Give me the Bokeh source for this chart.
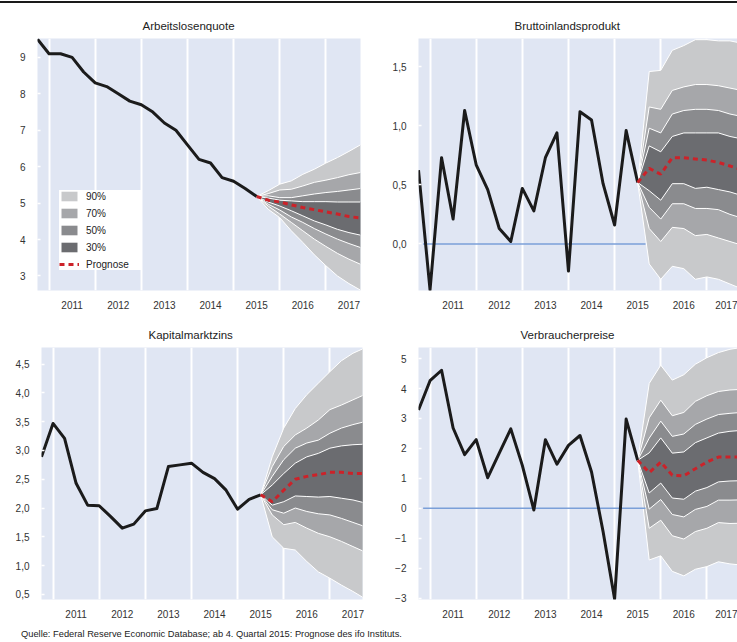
from bokeh.plotting import figure
from bokeh.models import (FixedTicker, CustomJSTickFormatter, Legend, LegendItem,
                          Div, Range1d)
from bokeh.layouts import column, row
from bokeh.embed import file_html
from bokeh.resources import INLINE

# ---------------- data ----------------
def quarter_labels(y0, q0, n):
    out = []
    y, q = y0, q0
    for _ in range(n):
        out.append(f"{y}Q{q}")
        q += 1
        if q > 4:
            q = 1
            y += 1
    return out

hist_quarters = quarter_labels(2010, 4, 20)      # 2010Q4 .. 2015Q3
fc_quarters = quarter_labels(2015, 3, 10)        # 2015Q3 .. 2017Q4
year_labels = ["2011", "2012", "2013", "2014", "2015", "2016", "2017"]

# Arbeitslosenquote
alq_hist = [9.5, 9.1, 9.1, 9.0, 8.6, 8.3, 8.2, 8.0, 7.8, 7.7, 7.5, 7.2, 7.0, 6.6,
            6.2, 6.1, 5.7, 5.6, 5.4, 5.18]
alq_med = [5.18, 5.08, 5.03, 4.95, 4.88, 4.82, 4.76, 4.70, 4.63, 4.59]
alq_u90 = [5.18, 5.34, 5.52, 5.61, 5.79, 5.93, 6.10, 6.25, 6.42, 6.60]
alq_u70 = [5.18, 5.26, 5.36, 5.38, 5.47, 5.57, 5.63, 5.70, 5.78, 5.84]
alq_u50 = [5.18, 5.20, 5.15, 5.15, 5.20, 5.25, 5.29, 5.32, 5.36, 5.40]
alq_u30 = [5.18, 5.14, 5.08, 5.06, 5.04, 5.04, 5.04, 5.03, 5.03, 5.03]
alq_l30 = [5.18, 5.03, 4.92, 4.79, 4.65, 4.51, 4.40, 4.28, 4.19, 4.12]
alq_l50 = [5.18, 4.97, 4.81, 4.62, 4.47, 4.30, 4.15, 4.01, 3.89, 3.78]
alq_l70 = [5.18, 4.92, 4.70, 4.47, 4.24, 4.01, 3.81, 3.62, 3.46, 3.32]
alq_l90 = [5.18, 4.83, 4.60, 4.24, 3.92, 3.58, 3.28, 3.00, 2.79, 2.61]

# Bruttoinlandsprodukt
bip_hist = [0.625, -0.39, 0.73, 0.21, 1.13, 0.67, 0.46, 0.13, 0.02, 0.47, 0.28, 0.73,
            0.94, -0.23, 1.12, 1.05, 0.51, 0.16, 0.96, 0.52]
bip_med = [0.52, 0.64, 0.59, 0.73, 0.73, 0.72, 0.71, 0.69, 0.66, 0.63]
bip_u90 = [0.52, 1.46, 1.47, 1.64, 1.68, 1.73, 1.73, 1.72, 1.72, 1.70]
bip_u70 = [0.52, 1.16, 1.14, 1.30, 1.33, 1.35, 1.35, 1.34, 1.32, 1.30]
bip_u50 = [0.52, 0.98, 0.94, 1.10, 1.13, 1.14, 1.14, 1.13, 1.10, 1.08]
bip_u30 = [0.52, 0.83, 0.78, 0.91, 0.94, 0.94, 0.94, 0.94, 0.91, 0.89]
bip_l30 = [0.52, 0.45, 0.37, 0.51, 0.51, 0.47, 0.48, 0.46, 0.44, 0.41]
bip_l50 = [0.52, 0.31, 0.21, 0.34, 0.34, 0.30, 0.30, 0.29, 0.25, 0.22]
bip_l70 = [0.52, 0.13, 0.02, 0.14, 0.13, 0.07, 0.08, 0.05, 0.02, -0.01]
bip_l90 = [0.52, -0.17, -0.30, -0.19, -0.21, -0.30, -0.28, -0.30, -0.34, -0.38]

# Kapitalmarktzins
kmz_hist = [2.89, 3.47, 3.21, 2.43, 2.05, 2.04, 1.85, 1.65, 1.72, 1.95, 1.99, 2.72,
            2.75, 2.78, 2.62, 2.51, 2.31, 1.98, 2.15, 2.23]
kmz_med = [2.23, 2.11, 2.31, 2.50, 2.55, 2.58, 2.62, 2.62, 2.60, 2.60]
kmz_u90 = [2.23, 2.89, 3.39, 3.73, 3.97, 4.17, 4.37, 4.56, 4.69, 4.78]
kmz_u70 = [2.23, 2.72, 3.07, 3.27, 3.39, 3.53, 3.71, 3.79, 3.88, 3.97]
kmz_u50 = [2.23, 2.55, 2.84, 3.04, 3.13, 3.18, 3.30, 3.39, 3.45, 3.50]
kmz_u30 = [2.23, 2.40, 2.60, 2.78, 2.89, 2.95, 3.04, 3.08, 3.10, 3.11]
kmz_l30 = [2.23, 2.05, 2.11, 2.21, 2.20, 2.19, 2.20, 2.17, 2.14, 2.09]
kmz_l50 = [2.23, 1.97, 1.91, 2.00, 1.94, 1.90, 1.88, 1.82, 1.75, 1.68]
kmz_l70 = [2.23, 1.88, 1.71, 1.75, 1.65, 1.56, 1.50, 1.42, 1.33, 1.24]
kmz_l90 = [2.23, 1.50, 1.30, 1.27, 1.07, 0.89, 0.78, 0.66, 0.55, 0.43]

# Verbraucherpreise
vpi_hist = [3.28, 4.26, 4.61, 2.68, 1.79, 2.29, 1.02, 1.84, 2.65, 1.43, -0.06, 2.29,
            1.47, 2.10, 2.43, 1.21, -0.78, -3.03, 2.98, 1.60]
vpi_med = [1.60, 1.19, 1.54, 1.10, 1.08, 1.32, 1.54, 1.71, 1.71, 1.71]
vpi_u90 = [1.60, 4.17, 4.78, 4.28, 4.46, 4.81, 5.03, 5.20, 5.31, 5.37]
vpi_u70 = [1.60, 3.02, 3.61, 3.09, 3.20, 3.57, 3.76, 3.90, 3.95, 3.97]
vpi_u50 = [1.60, 2.34, 2.91, 2.40, 2.48, 2.80, 2.98, 3.13, 3.17, 3.20]
vpi_u30 = [1.60, 1.85, 2.35, 1.84, 1.88, 2.19, 2.35, 2.51, 2.57, 2.60]
vpi_l30 = [1.60, 0.51, 0.84, 0.34, 0.30, 0.57, 0.69, 0.88, 0.91, 0.92]
vpi_l50 = [1.60, -0.03, 0.29, -0.21, -0.29, -0.04, 0.06, 0.27, 0.27, 0.28]
vpi_l70 = [1.60, -0.67, -0.40, -0.92, -1.03, -0.78, -0.67, -0.48, -0.51, -0.50]
vpi_l90 = [1.60, -1.73, -1.59, -2.11, -2.26, -2.04, -1.95, -1.79, -1.86, -1.90]

band_labels = ["90%", "70%", "50%", "30%"]
source_text = ("Quelle: Federal Reserve Economic Database; ab 4. Quartal 2015: "
               "Prognose des ifo Instituts.")

# ---------------- styling ----------------
FONT = "Liberation Sans"
BG = "#e0e6f3"
BAND_COLORS = ["#c8c9cb", "#a6a7aa", "#8a8b8e", "#6b6c70"]
X0 = 2010.75
PX_PER_YEAR = 323.0 / 7.0


def qpos(label):
    y, q = label.split("Q")
    return int(y) + (int(q) - 1) / 4.0


hist_x = [qpos(q) for q in hist_quarters]
fc_x = [qpos(q) for q in fc_quarters]
year_x = [int(y) for y in year_labels]
year_mid = [int(y) + 0.5 for y in year_labels]


def make_panel(title, hist, med, uppers, lowers, yr, yticks, decimals,
               width, height, mbl, mbr, mbt, mbb, title_left, zero=False, legend=False):
    frame_w = width - mbl - mbr
    x_end = X0 + frame_w / PX_PER_YEAR
    p = figure(width=width, height=height, x_range=Range1d(X0, x_end),
               y_range=Range1d(*yr), output_backend="svg", toolbar_location=None,
               min_border_left=mbl, min_border_right=mbr, min_border_top=mbt,
               min_border_bottom=mbb)
    p.background_fill_color = BG
    p.border_fill_color = "white"
    p.outline_line_color = None

    p.title.text = title
    p.title.align = "left"
    p.title.offset = title_left
    p.title.text_font = FONT
    p.title.text_font_size = "11.5px"
    p.title.text_font_style = "normal"
    p.title.text_color = "#222222"
    p.title.standoff = 13

    # grid: white vertical lines at year starts
    p.xgrid.ticker = FixedTicker(ticks=year_x)
    p.xgrid.grid_line_color = "white"
    p.xgrid.grid_line_width = 2
    p.ygrid.grid_line_color = None

    xa = p.xaxis[0]
    xa.ticker = FixedTicker(ticks=year_mid)
    xa.formatter = CustomJSTickFormatter(code="return Math.floor(tick).toString();")
    xa.axis_line_color = None
    xa.major_tick_out = 0
    xa.major_tick_in = 0
    xa.minor_tick_out = 0
    xa.minor_tick_in = 0
    xa.major_label_standoff = 10
    xa.major_label_text_font = FONT
    xa.major_label_text_font_size = "10px"
    xa.major_label_text_color = "#333333"

    ya = p.yaxis[0]
    ya.ticker = FixedTicker(ticks=yticks)
    ya.formatter = CustomJSTickFormatter(
        args=dict(d=decimals),
        code="return tick.toFixed(d).replace('.', ',').replace('-', '\u2212');")
    ya.axis_line_color = None
    ya.major_tick_out = 0
    ya.major_tick_in = 3
    ya.major_tick_line_color = "white"
    ya.major_tick_line_width = 1.5
    ya.minor_tick_out = 0
    ya.minor_tick_in = 0
    ya.major_label_standoff = 12
    ya.major_label_text_font = FONT
    ya.major_label_text_font_size = "10px"
    ya.major_label_text_color = "#333333"

    band_renderers = []
    for up, lo, col in zip(uppers, lowers, BAND_COLORS):
        r = p.varea(x=fc_x, y1=lo, y2=up, fill_color=col, fill_alpha=1)
        band_renderers.append(r)
    for up, lo in zip(uppers, lowers):
        p.line(fc_x, up, line_color="white", line_width=1)
        p.line(fc_x, lo, line_color="white", line_width=1)

    if zero:
        p.line([2010.85, 2015.67], [0, 0], line_color="#7b9fd8", line_width=1.5)

    p.line(hist_x, hist, line_color="#1b1b1b", line_width=3, line_join="round")
    med_r = p.line(fc_x, med, line_color="#cc2229", line_width=3, line_dash="5 4")

    if legend:
        items = [LegendItem(label=lab, renderers=[r]) for lab, r in zip(band_labels, band_renderers)]
        items.append(LegendItem(label="Prognose", renderers=[med_r]))
        lg = Legend(items=items, location=(22, 20))
        lg.background_fill_color = "white"
        lg.background_fill_alpha = 1
        lg.border_line_color = None
        lg.glyph_width = 20
        lg.glyph_height = 12
        lg.label_height = 12
        lg.label_width = 56
        lg.label_standoff = 7
        lg.spacing = 5
        lg.padding = 5
        lg.margin = 0
        lg.label_text_font = FONT
        lg.label_text_font_size = "10px"
        lg.label_text_color = "#222222"
        p.add_layout(lg)
    return p


tl = make_panel("Arbeitslosenquote", alq_hist, alq_med,
                [alq_u90, alq_u70, alq_u50, alq_u30], [alq_l90, alq_l70, alq_l50, alq_l30],
                (2.6, 9.52), [3, 4, 5, 6, 7, 8, 9], 0,
                389, 315, 37, 29, 35, 28, 105, legend=True)
tr = make_panel("Bruttoinlandsprodukt", bip_hist, bip_med,
                [bip_u90, bip_u70, bip_u50, bip_u30], [bip_l90, bip_l70, bip_l50, bip_l30],
                (-0.395, 1.74), [0.0, 0.5, 1.0, 1.5], 1,
                348, 315, 29, 0, 35, 28, 96, zero=True)
bl = make_panel("Kapitalmarktzins", kmz_hist, kmz_med,
                [kmz_u90, kmz_u70, kmz_u50, kmz_u30], [kmz_l90, kmz_l70, kmz_l50, kmz_l30],
                (0.41, 4.79), [0.5, 1.0, 1.5, 2.0, 2.5, 3.0, 3.5, 4.0, 4.5], 1,
                389, 303, 41, 27, 29, 22, 107)
br = make_panel("Verbraucherpreise", vpi_hist, vpi_med,
                [vpi_u90, vpi_u70, vpi_u50, vpi_u30], [vpi_l90, vpi_l70, vpi_l50, vpi_l30],
                (-3.05, 5.37), [-3, -2, -1, 0, 1, 2, 3, 4, 5], 0,
                348, 303, 29, 0, 29, 22, 102, zero=True)

topline = Div(text="", width=737, height=2, margin=(1, 0, 0, 0),
              styles={"background-color": "#1a1a1a"})
src = Div(text=source_text, width=737, height=21, margin=0,
          styles={"font-family": FONT, "font-size": "9.3px", "color": "#222222",
                  "padding-left": "21px", "padding-top": "7px", "line-height": "12px",
                  "white-space": "nowrap", "box-sizing": "border-box"})

layout = column(topline, row(tl, tr, spacing=0), row(bl, br, spacing=0), src, spacing=0)

open("out.html", "w").write(file_html(layout, INLINE))
